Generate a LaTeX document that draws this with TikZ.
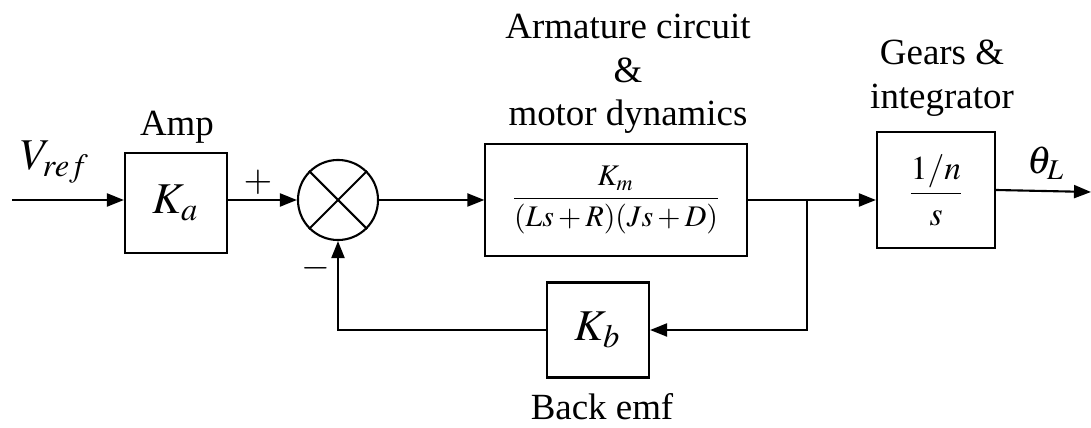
\documentclass[tikz,border=0pt]{standalone}
\usepackage{amsmath}
\usepackage{mathptmx}
\usepackage{fontspec}
\setmainfont{Liberation Serif}
\usepackage{tikz}
\usetikzlibrary{arrows.meta, positioning, calc}

\begin{document}
\begin{tikzpicture}[
    x=0.01cm, y=-0.01cm,
    font=\fontsize{10.5}{12.4}\selectfont,
    block/.style={rectangle, draw, line width=0.6pt, inner sep=0pt, align=center},
    sumnode/.style={circle, draw, line width=0.6pt, minimum size=0.8cm, inner sep=0pt},
    label/.style={align=center, inner sep=0pt},
    line/.style={draw, line width=0.6pt, -{Triangle[length=1.7mm, width=1.3mm]}}
]
    \useasboundingbox (0,0) rectangle (1091,428);

    % blocks
    \node [block, minimum width=1.02cm, minimum height=1.0cm] (amp) at (176,203) {\fontsize{12.5}{14}\selectfont $K_a$};
    \node [sumnode] (sum) at (338,200) {};
    \node [block, minimum width=2.61cm, minimum height=1.12cm] (motor) at (616,200)
        {\fontsize{8.5}{10}\selectfont $\dfrac{K_m}{(Ls+R)(Js+D)}$};
    \node [block, minimum width=1.18cm, minimum height=1.16cm] (gears) at (936,190)
        {\fontsize{9.5}{11}\selectfont $\dfrac{1/n}{s}$};
    \node [block, minimum width=1.02cm, minimum height=0.95cm] (backemf) at (598,330) {\fontsize{12.5}{14}\selectfont $K_b$};

    \draw [line width=0.6pt] (sum.45) -- (sum.225);
    \draw [line width=0.6pt] (sum.135) -- (sum.315);

    % labels
    \node [label] (amplbl) at (177,127) {Amp};
    \node [label] (motorlbl) at (628,74) {Armature circuit\\\&\\motor dynamics};
    \node [label] (gearslbl) at (942,78) {Gears \&\\integrator};
    \node [label] (backlbl) at (602,407) {Back emf};
    \node [label] (vref) at (55,162) {\fontsize{12.5}{14}\selectfont $V_{ref}$};
    \node [label] (theta) at (1046,163) {\fontsize{11}{13}\selectfont $\theta_L$};
    \node [label] (plus) at (258,182) {$+$};
    \node [label] (minus) at (316,268) {$-$};

    % connectors
    \coordinate (in) at (12,200);
    \coordinate (out) at (1091,192);
    \coordinate (branch) at (807,200);

    \draw [line] (in) -- (in -| amp.west);
    \draw [line] (amp.east |- sum.west) -- (sum.west);
    \draw [line] (sum.east) -- (motor.west);
    \draw [line] (motor.east) -- (motor.east -| gears.west);
    \draw [line] (gears.east) -- (out);
    \draw [line] (branch) |- (backemf.east);
    \draw [line] (backemf.west) -| (sum.south);

\end{tikzpicture}
\end{document}
